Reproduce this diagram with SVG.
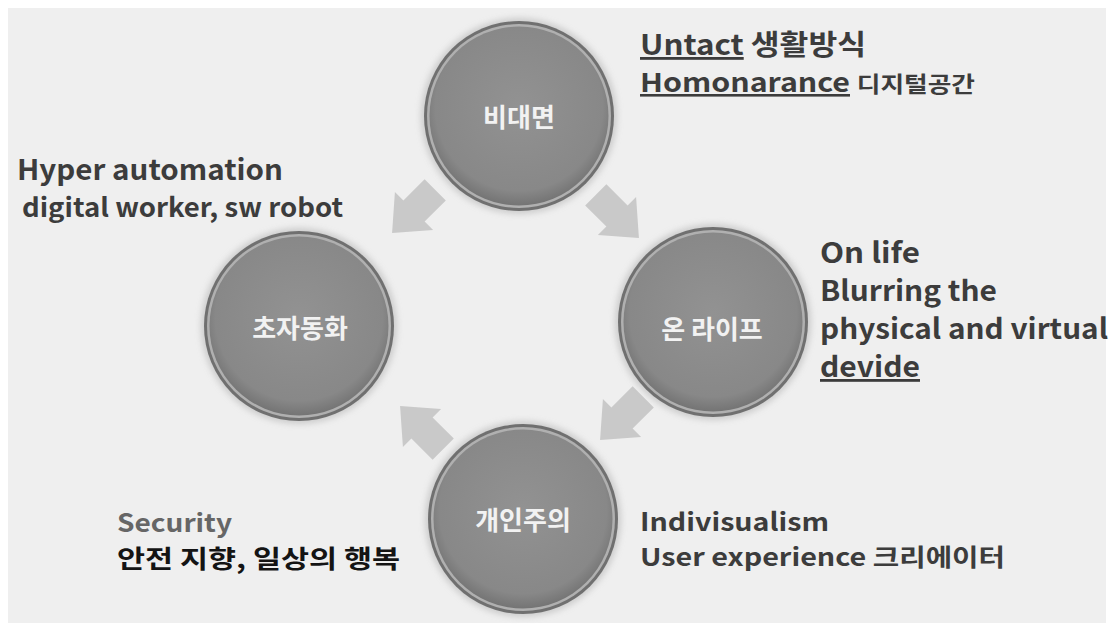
<svg xmlns="http://www.w3.org/2000/svg" width="1114" height="631" viewBox="0 0 1114 631">
<defs>
<style>
.t{font-family:"Noto Sans CJK KR","Open Sans",sans-serif;font-weight:bold;fill:#3c3c3c}
.c{font-family:"Noto Sans CJK KR",sans-serif;font-weight:bold;fill:#f2f2f2;font-size:26px;text-anchor:middle}
.arr{fill:#c9c9c9}
</style>
<radialGradient id="g" cx="50%" cy="45%" r="55%">
<stop offset="0" stop-color="#929292"/>
<stop offset="0.85" stop-color="#888888"/>
<stop offset="1" stop-color="#747474"/>
</radialGradient>
<filter id="sh" x="-20%" y="-20%" width="140%" height="140%"><feGaussianBlur stdDeviation="3"/></filter>
<path id="ar" d="M-30,-15 L0,-15 L0,-27 L31,0 L0,27 L0,15 L-30,15 Z"/>
<g id="ball">
<circle r="98" fill="#bdbdbd" filter="url(#sh)" opacity="0.7"/>
<circle r="95" fill="#707070"/>
<circle r="92" fill="#b0b0b0"/>
<circle r="89.5" fill="url(#g)"/>
</g>
</defs>
<rect width="1114" height="631" fill="#ffffff"/>
<rect x="8" y="8" width="1098" height="615" fill="#efefef"/>
<g id="connectors">
<use href="#ar" class="arr" transform="translate(414,211) rotate(135)"/>
<use href="#ar" class="arr" transform="translate(617,216) rotate(45)"/>
<use href="#ar" class="arr" transform="translate(622,418) rotate(135)"/>
<use href="#ar" class="arr" transform="translate(422,428) rotate(225)"/>
</g>
<g id="node-bidaemyeon">
<use href="#ball" transform="translate(519,116)"/>
<text class="c" x="519" y="127">비대면</text>
</g>
<g id="node-chojadonghwa">
<use href="#ball" transform="translate(299,326)"/>
<text class="c" x="300" y="338">초자동화</text>
</g>
<g id="node-onlife">
<use href="#ball" transform="translate(713,322)"/>
<text class="c" x="712" y="339">온 라이프</text>
</g>
<g id="node-gaeinjuui">
<use href="#ball" transform="translate(523,519)"/>
<text class="c" x="523" y="530">개인주의</text>
</g>
<g id="label-top">
<text class="t" x="640" y="55" font-size="28" textLength="226" lengthAdjust="spacingAndGlyphs"><tspan text-decoration="underline">Untact</tspan> 생활방식</text>
<text class="t" x="640" y="92" font-size="26" textLength="335" lengthAdjust="spacingAndGlyphs"><tspan text-decoration="underline">Homonarance</tspan> <tspan font-size="22">디지털공간</tspan></text>
</g>
<g id="label-left">
<text class="t" x="17" y="180" font-size="28" textLength="266" lengthAdjust="spacingAndGlyphs">Hyper automation</text>
<text class="t" x="22" y="217" font-size="26" textLength="321" lengthAdjust="spacingAndGlyphs">digital worker, sw robot</text>
</g>
<g id="label-right">
<text class="t" x="820" y="263" font-size="28" textLength="100" lengthAdjust="spacingAndGlyphs">On life</text>
<text class="t" x="820" y="301" font-size="28" textLength="177" lengthAdjust="spacingAndGlyphs">Blurring the</text>
<text class="t" x="820" y="339" font-size="28" textLength="288" lengthAdjust="spacingAndGlyphs">physical and virtual</text>
<text class="t" x="820" y="377" font-size="28" text-decoration="underline" textLength="100" lengthAdjust="spacingAndGlyphs">devide</text>
</g>
<g id="label-bottom-left">
<text class="t" x="117" y="532" font-size="25" style="fill:#666" textLength="115" lengthAdjust="spacingAndGlyphs">Security</text>
<text class="t" x="117" y="568" font-size="25" style="fill:#141414" textLength="283" lengthAdjust="spacingAndGlyphs">안전 지향, 일상의 행복</text>
</g>
<g id="label-bottom-right">
<text class="t" x="640" y="531" font-size="25" textLength="189" lengthAdjust="spacingAndGlyphs">Indivisualism</text>
<text class="t" x="640" y="566" font-size="24" textLength="365" lengthAdjust="spacingAndGlyphs">User experience  크리에이터</text>
</g>
</svg>
